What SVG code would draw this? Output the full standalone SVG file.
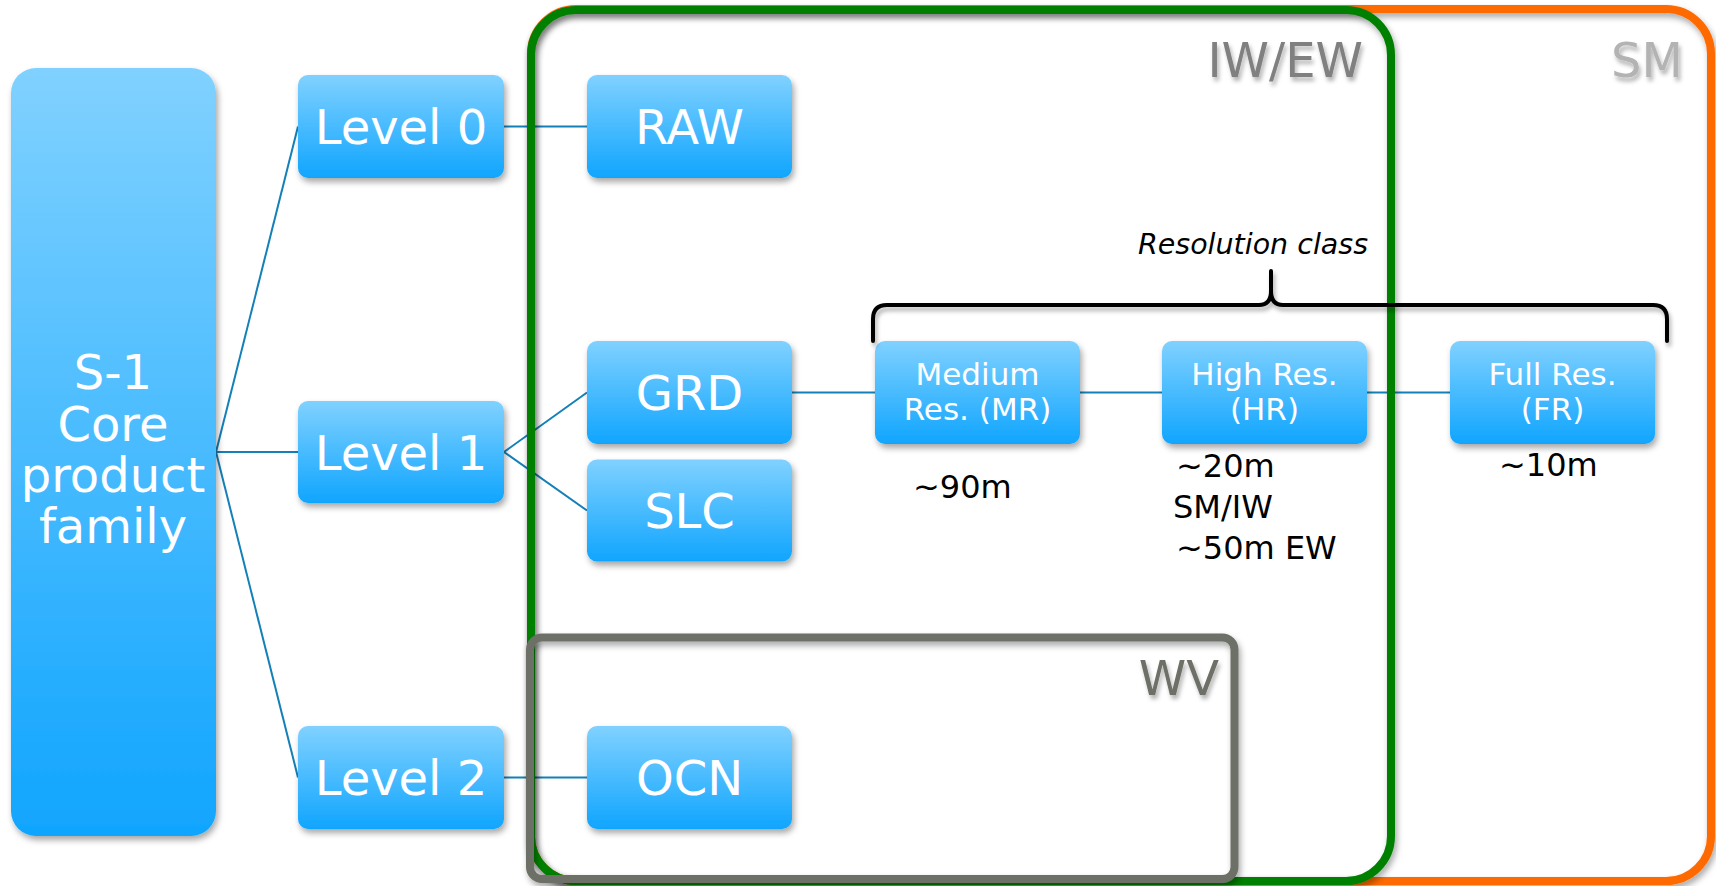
<svg xmlns="http://www.w3.org/2000/svg" width="1716" height="886" viewBox="0 0 1716 886">
<defs>
<linearGradient id="g" x1="0" y1="0" x2="0" y2="1">
<stop offset="0" stop-color="#80d1ff"/>
<stop offset="1" stop-color="#10a5fe"/>
</linearGradient>
<filter id="sh" x="-10%" y="-10%" width="130%" height="130%">
<feDropShadow dx="2" dy="4" stdDeviation="3" flood-color="#000" flood-opacity="0.35"/>
</filter>
<filter id="tsh" x="-10%" y="-10%" width="130%" height="140%">
<feDropShadow dx="2" dy="4" stdDeviation="2" flood-color="#000" flood-opacity="0.3"/>
</filter>
</defs>
<style>
.box{fill:url(#g);filter:url(#sh)}
.bt{font-family:"DejaVu Sans",sans-serif;font-size:48px;fill:#fff;text-anchor:middle}
.st{font-family:"DejaVu Sans",sans-serif;font-size:31px;fill:#fff;text-anchor:middle}
.lbl{font-family:"DejaVu Sans",sans-serif;font-size:32px;fill:#000}
.cn{stroke:#1380b8;stroke-width:2;fill:none}
.cont{fill:none;stroke-width:8;filter:url(#sh)}
.ct{font-family:"DejaVu Sans",sans-serif;font-size:48px;text-anchor:end;filter:url(#tsh)}
</style>
<rect width="1716" height="886" fill="#fff"/>
<g id="connectors">
<line class="cn" x1="216" y1="452" x2="298" y2="126.5"/>
<line class="cn" x1="216" y1="452" x2="298" y2="452"/>
<line class="cn" x1="216" y1="452" x2="298" y2="777.5"/>
<line class="cn" x1="504" y1="126.5" x2="587" y2="126.5"/>
<line class="cn" x1="504" y1="452" x2="587" y2="392.5"/>
<line class="cn" x1="504" y1="452" x2="587" y2="510.5"/>
<line class="cn" x1="504" y1="777.5" x2="587" y2="777.5"/>
<line class="cn" x1="792" y1="392.5" x2="875" y2="392.5"/>
<line class="cn" x1="1080" y1="392.5" x2="1162" y2="392.5"/>
<line class="cn" x1="1367" y1="392.5" x2="1450" y2="392.5"/>
</g>
<g id="sm">
<rect class="cont" x="531" y="9" width="1180" height="872" rx="45" stroke="#ff6a00"/>
<text class="ct" x="1683" y="77" fill="#b3b3b3">SM</text>
</g>
<g id="iwew">
<rect class="cont" x="531" y="10" width="860" height="871" rx="45" stroke="#008000"/>
<text class="ct" x="1363" y="77" fill="#808080">IW/EW</text>
</g>
<g id="wv">
<rect class="cont" x="530" y="637.5" width="704.5" height="241.5" rx="12" stroke="#6d6f66"/>
<text class="ct" x="1219" y="695" fill="#6d6f66" font-size="46">WV</text>
</g>
<g id="s1">
<rect class="box" x="11" y="68" width="205" height="768" rx="25"/>
<text class="bt" font-size="43" x="113" y="389">S-1</text>
<text class="bt" font-size="43" x="113" y="441">Core</text>
<text class="bt" font-size="43" x="113" y="492">product</text>
<text class="bt" font-size="43" x="113" y="543">family</text>
</g>
<g id="level0"><rect class="box" x="298" y="75" width="206" height="103" rx="10"/><text class="bt" x="401" y="144">Level 0</text></g>
<g id="level1"><rect class="box" x="298" y="401" width="206" height="102" rx="10"/><text class="bt" x="401" y="469.5">Level 1</text></g>
<g id="level2"><rect class="box" x="298" y="726" width="206" height="103" rx="10"/><text class="bt" x="401" y="795">Level 2</text></g>
<g id="raw"><rect class="box" x="587" y="75" width="205" height="103" rx="10"/><text class="bt" x="689.5" y="144">RAW</text></g>
<g id="grd"><rect class="box" x="587" y="341" width="205" height="103" rx="10"/><text class="bt" x="689.5" y="410">GRD</text></g>
<g id="slc"><rect class="box" x="587" y="459.5" width="205" height="102" rx="10"/><text class="bt" x="689.5" y="528">SLC</text></g>
<g id="ocn"><rect class="box" x="587" y="726" width="205" height="103" rx="10"/><text class="bt" x="689.5" y="795">OCN</text></g>
<g id="mr"><rect class="box" x="875" y="341" width="205" height="103" rx="10"/><text class="st" x="977.5" y="385">Medium</text><text class="st" x="977.5" y="420">Res. (MR)</text></g>
<g id="hr"><rect class="box" x="1162" y="341" width="205" height="103" rx="10"/><text class="st" x="1264.5" y="385">High Res.</text><text class="st" x="1264.5" y="420">(HR)</text></g>
<g id="fr"><rect class="box" x="1450" y="341" width="205" height="103" rx="10"/><text class="st" x="1552.5" y="385">Full Res.</text><text class="st" x="1552.5" y="420">(FR)</text></g>
<g id="brace">
<path d="M873,341 V319 Q873,305 887,305 H1259 Q1271,305 1271,291 V271 M1271,291 Q1271,305 1283,305 H1653 Q1667,305 1667,319 V341" fill="none" stroke="#000" stroke-width="4" stroke-linecap="round" stroke-linejoin="round" filter="url(#tsh)"/>
<text x="1368" y="254" font-family="DejaVu Sans,sans-serif" font-style="italic" font-size="28.5" text-anchor="end" fill="#000">Resolution class</text>
</g>
<g id="labels">
<text class="lbl" x="913" y="498">~90m</text>
<text class="lbl" x="1176" y="477">~20m</text>
<text class="lbl" x="1173" y="518">SM/IW</text>
<text class="lbl" x="1176" y="559">~50m EW</text>
<text class="lbl" x="1499" y="476">~10m</text>
</g>
</svg>
